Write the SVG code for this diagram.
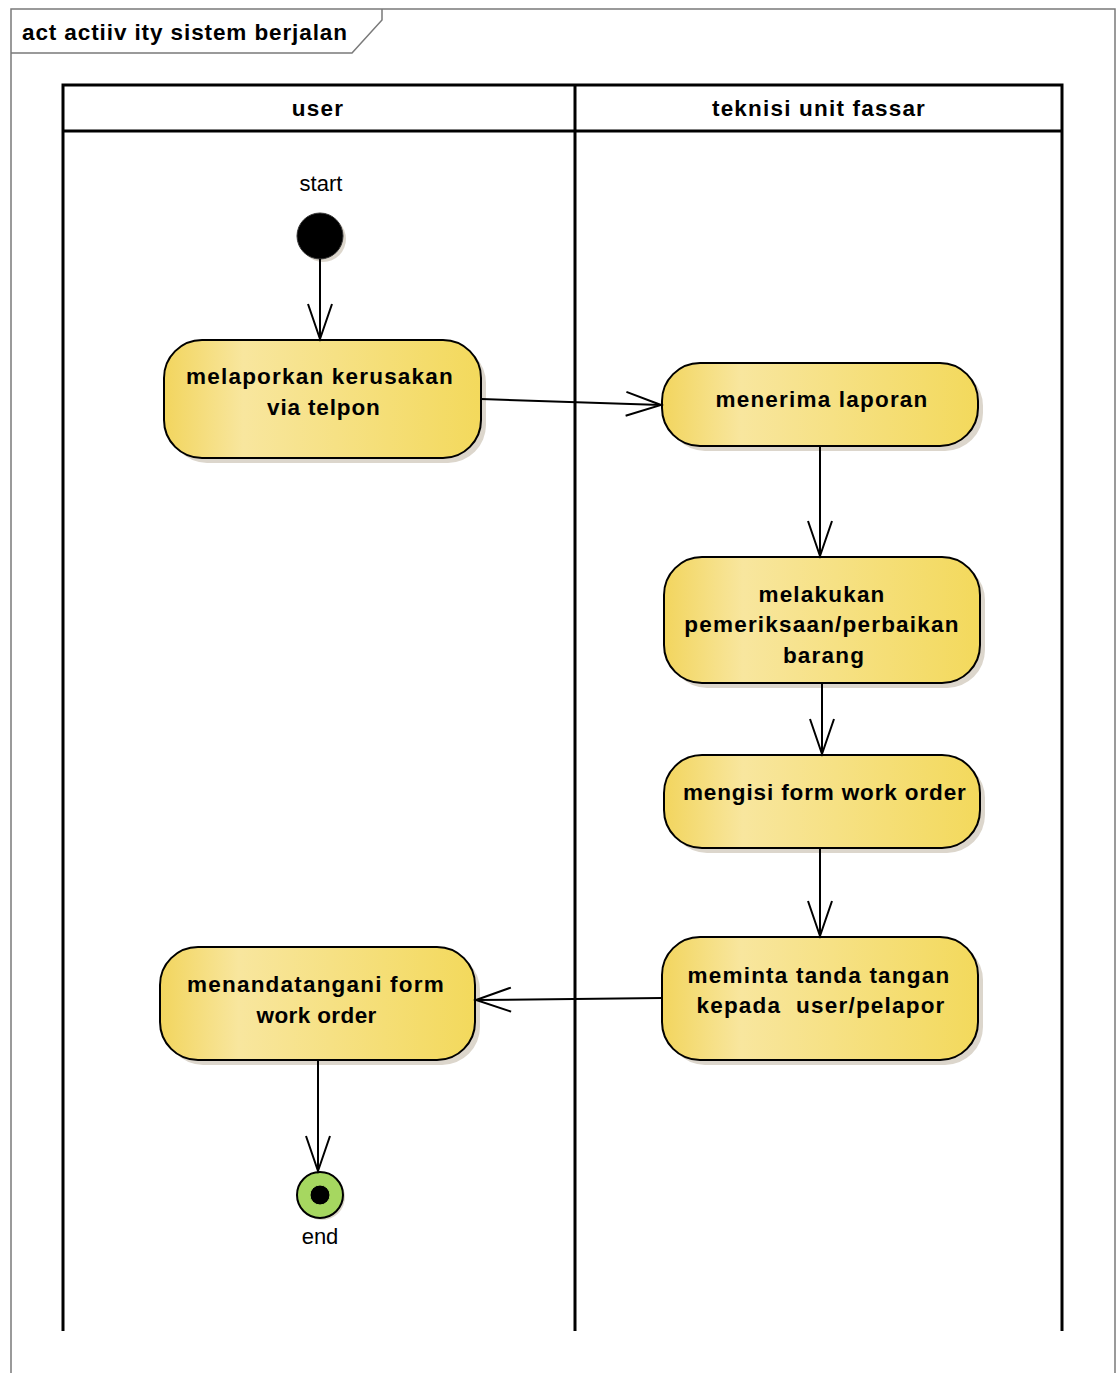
<svg xmlns="http://www.w3.org/2000/svg" width="1120" height="1373" viewBox="0 0 1120 1373">
<defs>
<linearGradient id="g" x1="0" y1="0" x2="1" y2="0">
<stop offset="0" stop-color="#F2D55E"/>
<stop offset="0.25" stop-color="#F8E69E"/>
<stop offset="1" stop-color="#F3D95C"/>
</linearGradient>
<marker id="arr" markerUnits="userSpaceOnUse" markerWidth="40" markerHeight="30" viewBox="-36 -14 40 28" refX="0" refY="0" orient="auto">
<path d="M-35,-12 L0,0 L-35,12" fill="none" stroke="#000" stroke-width="2"/>
</marker>
</defs>
<style>
.node rect.sh{fill:#DCD6CC}
.node rect.b{fill:url(#g);stroke:#000;stroke-width:2}
.t{font-family:"Liberation Sans",Arial,sans-serif;font-weight:bold;font-size:22.5px;letter-spacing:1.2px;fill:#000;text-anchor:middle}
.lbl{font-family:"Liberation Sans",Arial,sans-serif;font-size:22px;fill:#000;text-anchor:middle}
.lane{fill:none;stroke:#000;stroke-width:3}
.c{fill:none;stroke:#000;stroke-width:2;marker-end:url(#arr)}
</style>
<rect width="1120" height="1373" fill="#fff"/>
<g id="frame">
<path d="M11,1373 L11,9 L1115,9 L1115,1373" fill="none" stroke="#7a7a7a" stroke-width="1.5"/>
<path d="M11,53 L352,53 L382,20 L382,9" fill="none" stroke="#7a7a7a" stroke-width="1.5"/>
<text x="22" y="40" font-family="'Liberation Sans',Arial,sans-serif" font-weight="bold" font-size="22.5" letter-spacing="0.9">act actiiv ity sistem berjalan</text>
</g>
<g id="lanes">
<path class="lane" d="M63,1331 L63,85 L1062,85 L1062,1331 M575,85 L575,1331 M63,131 L1062,131"/>
<text class="t" x="318" y="116">user</text>
<text class="t" x="819" y="116">teknisi unit fassar</text>
</g>
<g id="start">
<circle cx="323" cy="239" r="23" fill="#DCD6CC"/>
<circle cx="320" cy="236" r="23" fill="#000" stroke="#333" stroke-width="1"/>
<text class="lbl" x="321" y="191">start</text>
</g>
<g id="n1" class="node">
<rect class="sh" x="169" y="345" width="317" height="118" rx="38"/>
<rect class="b" x="164" y="340" width="317" height="118" rx="38"/>
<text class="t" x="320" y="384">melaporkan kerusakan</text>
<text class="t" x="324" y="415" textLength="114" lengthAdjust="spacing">via telpon</text>
</g>
<g id="n2" class="node">
<rect class="sh" x="667" y="368" width="316" height="83" rx="38"/>
<rect class="b" x="662" y="363" width="316" height="83" rx="38"/>
<text class="t" x="822" y="407">menerima laporan</text>
</g>
<g id="n3" class="node">
<rect class="sh" x="669" y="562" width="316" height="126" rx="38"/>
<rect class="b" x="664" y="557" width="316" height="126" rx="38"/>
<text class="t" x="822" y="602">melakukan</text>
<text class="t" x="822" y="632">pemeriksaan/perbaikan</text>
<text class="t" x="824" y="663">barang</text>
</g>
<g id="n4" class="node">
<rect class="sh" x="669" y="760" width="316" height="93" rx="38"/>
<rect class="b" x="664" y="755" width="316" height="93" rx="38"/>
<text class="t" x="825" y="800" textLength="284" lengthAdjust="spacing">mengisi form work order</text>
</g>
<g id="n5" class="node">
<rect class="sh" x="667" y="942" width="316" height="123" rx="38"/>
<rect class="b" x="662" y="937" width="316" height="123" rx="38"/>
<text class="t" x="819" y="983">meminta tanda tangan</text>
<text class="t" x="821" y="1013" style="white-space:pre">kepada  user/pelapor</text>
</g>
<g id="n6" class="node">
<rect class="sh" x="165" y="952" width="315" height="113" rx="38"/>
<rect class="b" x="160" y="947" width="315" height="113" rx="38"/>
<text class="t" x="316" y="992">menandatangani form</text>
<text class="t" x="317" y="1023" textLength="121" lengthAdjust="spacing">work order</text>
</g>
<g id="end">
<circle cx="322" cy="1197" r="23" fill="#DCD6CC"/>
<circle cx="320" cy="1195" r="23" fill="#A6D760" stroke="#000" stroke-width="2"/>
<circle cx="320" cy="1195" r="10" fill="#000" stroke="#A6D760" stroke-width="1"/>
<text class="lbl" x="320" y="1244">end</text>
</g>
<g id="connectors">
<path class="c" d="M320,259 L320,339"/>
<path class="c" d="M481,399 L661,405"/>
<path class="c" d="M820,446 L820,556"/>
<path class="c" d="M822,683 L822,754"/>
<path class="c" d="M820,848 L820,936"/>
<path class="c" d="M662,998 L476,1000"/>
<path class="c" d="M318,1060 L318,1171"/>
</g>
</svg>
